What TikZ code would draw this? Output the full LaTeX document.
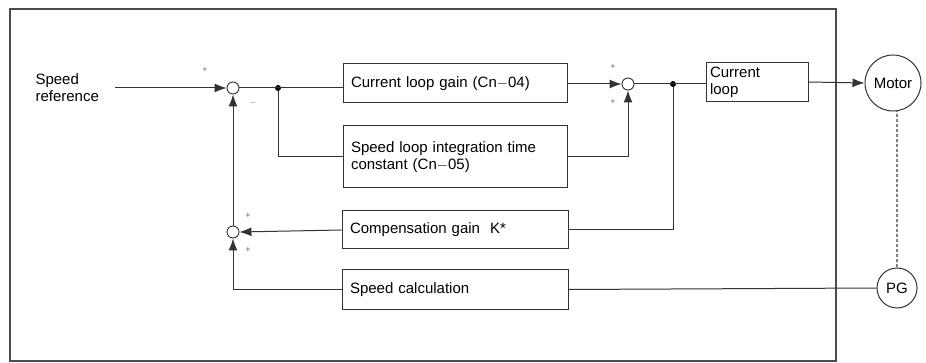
\documentclass[tikz,border=0pt]{standalone}
\usepackage{fontspec}
\setmainfont{Liberation Sans}
\usetikzlibrary{arrows.meta,positioning}

\begin{document}
\begin{tikzpicture}[
  x=1pt,
  y=-1pt,
  font=\fontsize{15}{17}\selectfont,
  block/.style={draw=black!80, line width=1pt, align=left, anchor=center, inner sep=8pt},
  sumpt/.style={circle, draw=black!80, line width=0.9pt, fill=white, minimum size=12pt, inner sep=0pt},
  joint/.style={circle, fill=black, minimum size=6pt, inner sep=0pt},
  device/.style={circle, draw=black!80, line width=1pt, inner sep=0pt},
  wire/.style={draw=black!80, line width=1pt},
  sig/.style={wire, -{Latex[length=12pt,width=9pt]}},
  sign/.style={font=\fontsize{9}{9}\selectfont, text=black!60, inner sep=0pt}
]
\useasboundingbox (0,0) rectangle (926,363);

% frame
\draw[black!70, line width=1.2pt] (10,9) rectangle (836,361);

% input
\node[align=left, anchor=west] (sref) at (32,88) {Speed\\reference};
\coordinate (sstart) at (115,88);

% summing points and branch points
\node[sumpt] (sumref) at (233,88) {};
\node[sumpt] (sumcur) at (628,84) {};
\node[sumpt] (sumfb) at (233,232) {};
\node[joint] (jref) at (278,88) {};
\node[joint] (jcur) at (673,84) {};

% blocks
\node[block, minimum width=224pt, minimum height=39pt, text width=208pt] (gain) at (455,83.5) {Current loop gain (Cn$-$04)};
\node[block, minimum width=224pt, minimum height=62pt, text width=208pt] (integ) at (455,157) {Speed loop integration time\\constant (Cn$-$05)};
\node[block, minimum width=226pt, minimum height=38pt, text width=210pt] (comp) at (455,230) {Compensation gain\ \ K*};
\node[block, minimum width=226pt, minimum height=39pt, text width=210pt] (calc) at (455,289.5) {Speed calculation};
\node[block, minimum width=102pt, minimum height=39pt, text width=94pt, inner sep=4pt] (cloop) at (757,82) {Current\\loop\\[4pt]};

% motor and encoder
\node[device, minimum size=56pt] (motor) at (893,83) {Motor};
\node[device, minimum size=40pt] (pg) at (897,288) {PG};

% forward path
\draw[sig] (sstart) -- (sumref.west);
\draw[wire] (sumref.east) -- (sumref -| gain.west);
\draw[wire] (jref) |- (integ.west);
\draw[sig] (gain.east |- sumcur) -- (sumcur.west);
\draw[sig] (integ.east) -| (sumcur.south);
\draw[wire] (sumcur.east) -- (sumcur -| cloop.west);
\draw[sig] (cloop.east) -- (motor.west);

% feedback path
\draw[wire] (jcur) |- (comp.east);
\draw[sig] (comp.west) -- (sumfb.east);
\draw[sig] (calc.west) -| (sumfb.south);
\draw[sig] (sumfb.north) -- (sumref.south);
\draw[wire] (calc.east) -- (pg.west);
\draw[black!50, line width=2pt, dash pattern=on 3pt off 2pt] (pg.north) -- (pg.north |- motor.south);

% signs
\node[sign] (s1) at (205,70) {+};
\node[sign] (s2) at (253,103) {$-$};
\node[sign] (s3) at (613,67) {+};
\node[sign] (s4) at (613,102) {+};
\node[sign] (s5) at (248,216) {+};
\node[sign] (s6) at (248,250) {+};
\end{tikzpicture}
\end{document}
